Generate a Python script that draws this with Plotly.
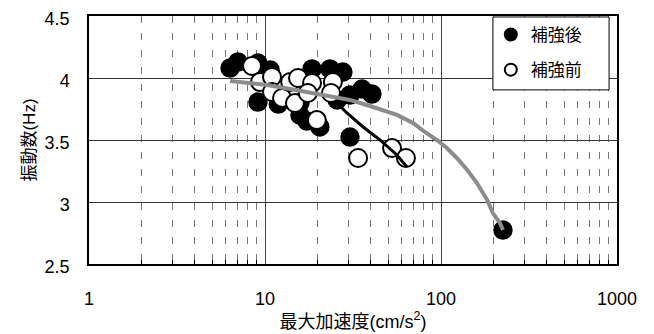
import plotly.graph_objects as go

# 補強後 (filled)
after_x = [6.33, 7.02, 9.12, 10.7, 9.12, 11.9, 15.8, 17.3, 20.5, 18.5, 23.4, 27.7, 25.7, 30.4, 35.6, 40.5, 30.4, 225, 15.8]
after_y = [4.08, 4.13, 4.12, 4.065, 3.806, 3.79, 3.70, 3.653, 3.605, 4.073, 4.073, 4.048, 3.823, 3.863, 3.911, 3.871, 3.524, 2.774, 3.80]

# 補強前 (open)
before_x = [8.44, 9.37, 10.96, 10.96, 12.5, 13.9, 15.4, 14.8, 18.5, 17.5, 19.7, 24.3, 23.7, 33.8, 52.7, 63.2]
before_y = [4.097, 3.968, 4.008, 3.887, 3.839, 3.968, 4.0, 3.798, 3.96, 3.879, 3.661, 3.968, 3.879, 3.355, 3.435, 3.355]

# black fitted line
fit_x = [26.7, 29.2, 36.1, 45.0, 56.2, 64.1]
fit_y = [3.774, 3.718, 3.605, 3.5, 3.379, 3.282]

# gray measured curve
gray_x = [6.33, 8.22, 10.3, 13.9, 18.7, 23.4, 30.4, 41.1, 56.2, 69.3, 79.0, 94.9, 108, 123, 141, 160, 183, 197, 216, 225]
gray_y = [3.976, 3.96, 3.944, 3.911, 3.879, 3.847, 3.823, 3.766, 3.702, 3.637, 3.575, 3.5, 3.435, 3.355, 3.258, 3.153, 3.016, 2.911, 2.831, 2.774]

x_ticks = [1, 10, 100, 1000]
x_minor = [2, 3, 4, 5, 6, 7, 8, 9, 20, 30, 40, 50, 60, 70, 80, 90, 200, 300, 400, 500, 600, 700, 800, 900]
y_ticks = [2.5, 3, 3.5, 4, 4.5]

FONT = "Liberation Sans, Arial, Noto Sans CJK JP"

fig = go.Figure()
fig.add_trace(go.Scatter(x=after_x, y=after_y, mode="markers", name="補強後",
                         legendgroup="a",
                         marker=dict(size=18, color="black", line=dict(color="black", width=1.5))))
fig.add_trace(go.Scatter(x=before_x, y=before_y, mode="markers", name="補強前",
                         legendgroup="b",
                         marker=dict(size=18, color="white", line=dict(color="black", width=2))))
fig.add_trace(go.Scatter(x=fit_x, y=fit_y, mode="lines", showlegend=False,
                         line=dict(color="black", width=3)))
fig.add_trace(go.Scatter(x=gray_x, y=gray_y, mode="lines", showlegend=False,
                         line=dict(color="#8c8c8c", width=4)))

# legend frame
fig.add_shape(type="rect", xref="paper", yref="paper",
              x0=0.765, x1=0.985, y0=0.702, y1=0.996,
              fillcolor="white", line=dict(color="black", width=1), layer="above")

fig.update_layout(
    width=646, height=326,
    margin=dict(l=81, r=37, t=8, b=70, autoexpand=False),
    paper_bgcolor="white", plot_bgcolor="white",
    font=dict(family=FONT, size=17, color="black"),
    showlegend=True,
    legend=dict(x=0.761, xanchor="left", y=0.996, yanchor="top",
                bgcolor="rgba(0,0,0,0)", borderwidth=0,
                font=dict(size=17, family="Noto Sans CJK JP"),
                itemsizing="constant", traceorder="grouped", tracegroupgap=10),
)
fig.update_xaxes(
    type="log", range=[0, 3], automargin=False,
    tickvals=x_ticks, ticktext=[str(v) for v in x_ticks],
    ticks="", ticklabelstandoff=18, ticklabeloverflow="allow",
    tickfont=dict(size=18, family=FONT),
    showgrid=True, gridcolor="#444444", gridwidth=1,
    showline=True, linecolor="black", linewidth=1.5, mirror=True,
    zeroline=False,
    minor=dict(tickvals=x_minor, showgrid=True, gridcolor="#777777", gridwidth=1,
               griddash="7px,10px", ticks="inside", ticklen=4, tickcolor="black"),
    title=dict(text="最大加速度(cm/s<sup>2</sup>)", font=dict(size=18, family=FONT), standoff=0),
)
fig.update_yaxes(
    range=[2.5, 4.5], automargin=False,
    tickvals=y_ticks, ticktext=["2.5", "3", "3.5", "4", "4.5"],
    ticks="", ticklabelstandoff=14, ticklabeloverflow="allow", ticklabelshift=3,
    tickfont=dict(size=18, family=FONT),
    showgrid=True, gridcolor="#333333", gridwidth=1,
    showline=True, linecolor="black", linewidth=1.5, mirror=True,
    zeroline=False,
    title=dict(text="振動数(Hz)", font=dict(size=17, family=FONT), standoff=5),
)

fig.write_html("out.html")
